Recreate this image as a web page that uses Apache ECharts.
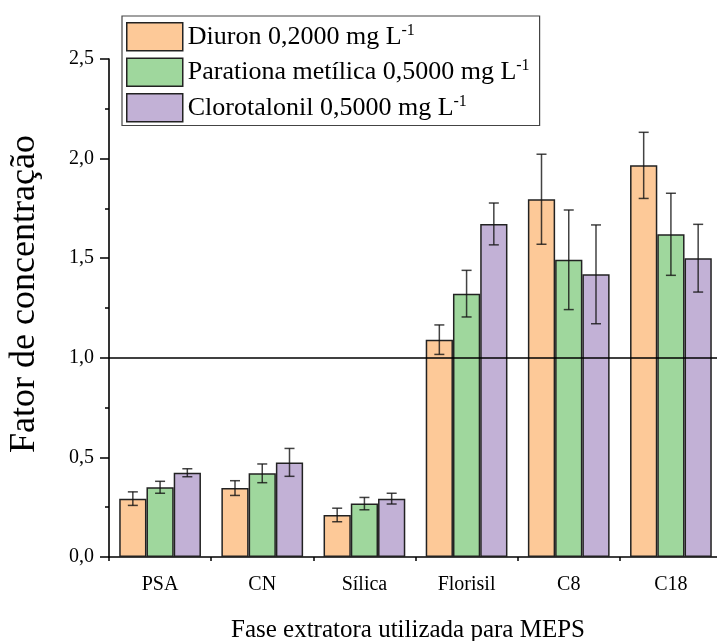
<!DOCTYPE html>
<html>
<head>
<meta charset="utf-8">
<script src="https://cdn.jsdelivr.net/npm/echarts@6/dist/echarts.min.js"></script>
<style>
  html, body { margin: 0; padding: 0; background: #fff; }
  #chart { width: 717px; height: 641px; }
</style>
</head>
<body>
<div id="chart"></div>
<script>
// Extraction phases (x categories)
const categories = ['PSA', 'CN', 'Sílica', 'Florisil', 'C8', 'C18'];

// Series names (legend) – the superscript part is rendered with rich text
const seriesNames = ['Diuron 0,2000 mg L', 'Parationa metílica 0,5000 mg L', 'Clorotalonil 0,5000 mg L'];

// Mean concentration factor per phase
const diuron       = [0.293, 0.346, 0.211, 1.091, 1.796, 1.966];
const parationa    = [0.350, 0.420, 0.268, 1.322, 1.492, 1.620];
const clorotalonil = [0.423, 0.475, 0.293, 1.672, 1.419, 1.500];

// Standard deviations (error bar half-lengths)
const diuronErr       = [0.034, 0.037, 0.034, 0.074, 0.226, 0.166];
const parationaErr    = [0.030, 0.047, 0.031, 0.117, 0.250, 0.206];
const clorotalonilErr = [0.020, 0.070, 0.027, 0.105, 0.248, 0.170];

const colors = ['#FDC998', '#9FD79D', '#C2B1D6'];
const values = [diuron, parationa, clorotalonil];
const errors = [diuronErr, parationaErr, clorotalonilErr];

const FONT = '"Liberation Serif", "Times New Roman", serif';
const BAR_GAP_FRAC = 0.2;   // barCategoryGap

const chart = echarts.init(document.getElementById('chart'), null, { renderer: 'canvas' });

function errorRenderer(seriesIdx) {
  return function (params, api) {
    const xi = api.value(0);
    const lo = api.coord([xi, api.value(1)]);
    const hi = api.coord([xi, api.value(2)]);
    const band = api.size([1, 0])[0];
    const bw = band * (1 - BAR_GAP_FRAC) / 3;
    const cx = lo[0] + (seriesIdx - 1) * bw;
    const cap = 5;
    const style = { stroke: 'rgba(20,20,20,0.8)', lineWidth: 1.5 };
    return {
      type: 'group',
      children: [
        { type: 'line', shape: { x1: cx, y1: lo[1], x2: cx, y2: hi[1] }, style: style },
        { type: 'line', shape: { x1: cx - cap, y1: lo[1], x2: cx + cap, y2: lo[1] }, style: style },
        { type: 'line', shape: { x1: cx - cap, y1: hi[1], x2: cx + cap, y2: hi[1] }, style: style }
      ]
    };
  };
}

const barSeries = values.map((vals, i) => ({
  name: seriesNames[i],
  type: 'bar',
  xAxisIndex: 0,
  data: vals,
  barGap: '0%',
  barCategoryGap: (BAR_GAP_FRAC * 100) + '%',
  itemStyle: { color: colors[i], borderColor: '#222', borderWidth: 1.5 },
  emphasis: { disabled: true },
  animation: false
}));

// Reference line at a concentration factor of 1
barSeries[0].markLine = {
  silent: true,
  symbol: 'none',
  label: { show: false },
  lineStyle: { color: '#000', width: 1.6, type: 'solid' },
  data: [{ yAxis: 1 }],
  animation: false
};

const errSeries = values.map((vals, i) => ({
  type: 'custom',
  xAxisIndex: 0,
  renderItem: errorRenderer(i),
  encode: { x: 0, y: [1, 2] },
  data: vals.map((v, k) => [k, v - errors[i][k], v + errors[i][k]]),
  z: 10,
  silent: true,
  animation: false
}));

const option = {
  backgroundColor: '#fff',
  animation: false,
  grid: { left: 109, right: -5, top: 59, bottom: 84, containLabel: false, outerBoundsMode: 'none' },
  legend: {
    data: seriesNames,
    orient: 'vertical',
    left: 122,
    top: 16,
    itemWidth: 56,
    itemHeight: 28,
    itemGap: 6,
    padding: [6, 10, 3, 4],
    borderColor: '#444',
    borderWidth: 1.2,
    icon: 'rect',
    itemStyle: { borderColor: '#222', borderWidth: 1.5 },
    selectedMode: false,
    formatter: name => name + '{sup|-1}',
    textStyle: {
      fontFamily: FONT,
      fontSize: 26,
      color: '#000',
      rich: {
        sup: { fontFamily: FONT, fontSize: 16, color: '#000', padding: [0, 0, 12, 0] }
      }
    }
  },
  xAxis: [
    {
      type: 'category',
      data: categories,
      position: 'bottom',
      name: 'Fase extratora utilizada para MEPS',
      nameLocation: 'middle',
      nameGap: 61,
      nameTextStyle: { fontFamily: FONT, fontSize: 25, color: '#000', padding: [0, 15, 0, 0] },
      axisLine: { lineStyle: { color: '#000', width: 1.6 } },
      axisTick: { alignWithLabel: true, length: 8, lineStyle: { color: '#000', width: 1.5 } },
      axisLabel: { fontFamily: FONT, fontSize: 20, color: '#000', margin: 18 },
      splitLine: { show: false }
    },
    {
      type: 'category',
      data: categories,
      position: 'bottom',
      axisLine: { show: false },
      axisTick: { show: true, length: 4, lineStyle: { color: '#000', width: 1.5 } },
      axisLabel: { show: false },
      splitLine: { show: false }
    }
  ],
  yAxis: {
    type: 'value',
    min: 0,
    max: 2.5,
    interval: 0.5,
    name: 'Fator de concentração',
    nameLocation: 'middle',
    nameGap: 66,
    nameTextStyle: { fontFamily: FONT, fontSize: 36, color: '#000', padding: [0, 0, 0, 28] },
    axisLine: { show: true, lineStyle: { color: '#000', width: 1.6 } },
    axisTick: { show: true, length: 9, lineStyle: { color: '#000', width: 1.5 } },
    minorTick: { show: true, splitNumber: 2, length: 4, lineStyle: { color: '#000', width: 1.5 } },
    axisLabel: {
      fontFamily: FONT, fontSize: 20, color: '#000', margin: 15,
      formatter: v => v.toFixed(1).replace('.', ',')
    },
    splitLine: { show: false }
  },
  series: [...barSeries, ...errSeries]
};

chart.setOption(option);
</script>
</body>
</html>
